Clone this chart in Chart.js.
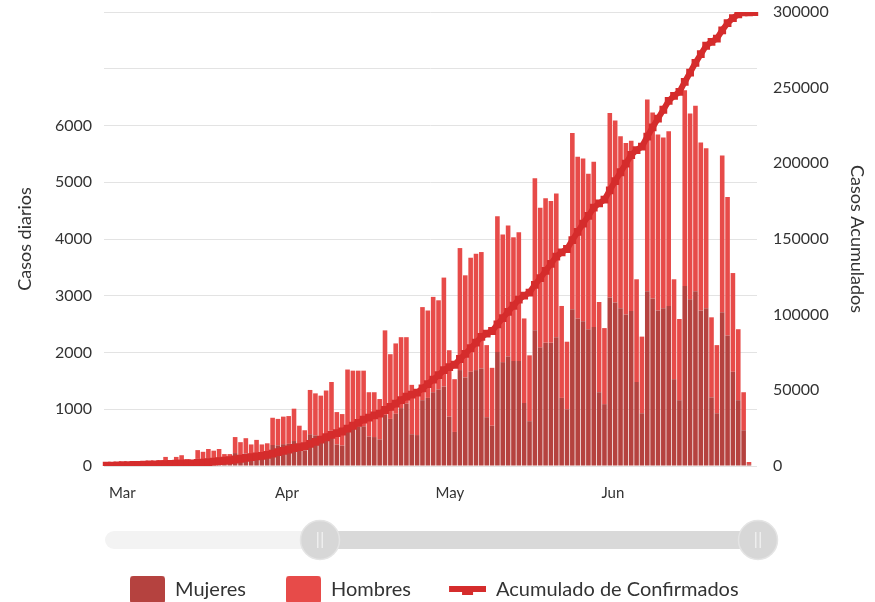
<!DOCTYPE html>
<html><head><meta charset="utf-8">
<script src="https://cdn.jsdelivr.net/npm/chart.js@4.4.1/dist/chart.umd.min.js"></script>
<style>html,body{margin:0;padding:0;background:#fff}#wrap{width:875px;height:602px;position:relative}</style>
</head><body><div id="wrap"><canvas id="c" width="875" height="602"></canvas></div>
<script>
// ---- categories ----
const START_DATE = '2020-02-29';
const DAY_COUNT = 122;
const MONTH_STARTS = ['2020-03-01','2020-04-01','2020-05-01','2020-06-01'];
const MONTH_LABELS = ['Mar','Apr','May','Jun'];

// ---- series ----
const mujeres = [0,1,1,2,4,5,7,10,16,23,
45,72,46,73,86,55,46,125,112,134,
122,135,95,96,228,190,220,170,205,172,
180,370,365,385,390,440,310,275,560,540,
525,560,620,380,360,700,690,690,700,520,
510,470,900,830,920,1020,1100,560,545,1160,
1200,1300,1350,1400,870,600,1690,1560,1660,1690,
1720,860,710,2010,1830,1930,1850,1850,1110,790,
2390,2090,2170,2170,2270,1200,1000,2760,2600,2550,
2410,2450,1300,1090,2970,2880,2780,2670,2730,1480,
930,3080,2950,2740,2780,2820,1530,1160,3170,2940,
3080,2740,2780,1210,930,2710,2300,1660,1160,630,
30,null];

const hombres = [0,1,2,3,4,5,8,12,19,27,
55,88,54,87,104,65,54,155,138,166,
148,165,115,114,282,230,270,210,255,208,
220,480,465,485,490,570,400,355,780,740,
715,770,860,570,555,1000,990,990,980,780,
790,710,1490,1140,1240,1250,1170,870,795,1640,
1540,1680,1570,1920,1170,930,2150,1800,2010,2050,
2050,1270,1020,2390,2250,2310,2180,2270,1490,1160,
2680,2460,2550,2500,2530,1620,1190,3110,2850,2870,
2740,2910,1590,1340,3250,3210,3030,3020,3000,1810,
1350,3380,3280,3100,3010,3080,1760,1430,3450,3270,
3270,2960,2820,1410,1200,2760,2440,1740,1250,670,
40,null];

const acumulado = [200,300,400,500,600,700,800,900,1000,1100,
1200,1300,1400,1500,1600,1700,1800,2000,2300,2600,
2900,3200,3500,3800,4300,4800,5300,5800,6300,6700,
7300,8200,9100,10000,10900,11900,12500,13200,14600,16000,
17500,19000,20600,21700,22800,24700,26600,28500,30600,32000,
33400,34600,37000,39000,41200,43500,45800,47200,48500,51300,
54100,57100,60000,63300,65300,66900,70700,74100,77800,81500,
85300,87400,89200,93600,97700,101900,105900,110000,112600,114600,
119700,124200,128900,133600,138400,141200,143400,149300,154700,160100,
165300,170700,173600,176000,182200,188300,194100,199800,205500,208800,
211100,217600,223800,229600,235400,241300,244600,247200,253800,260000,
266400,272100,277700,280300,282400,287900,292600,296000,298400,299700,
299800,299900];

const LEFT_TICK_MAX_LABEL = 6000;

function buildDates(start, n){
  const out = []; const d = new Date(start + 'T00:00:00Z');
  for (let i = 0; i < n; i++){ out.push(d.toISOString().slice(0,10)); d.setUTCDate(d.getUTCDate() + 1); }
  return out;
}
const categories = buildDates(START_DATE, DAY_COUNT);

const COL_MUJ = '#b5423f';
const COL_HOM = '#e74b49';
const COL_LINE = '#d52c2c';
const TEXT = '#333333';

function swatch(color){
  const c = document.createElement('canvas'); c.width = 71; c.height = 29;
  const g = c.getContext('2d'); g.fillStyle = color;
  g.beginPath(); g.roundRect(36, 0, 35, 29, 4); g.fill();
  return c;
}
function lineSymbol(color){
  const c = document.createElement('canvas'); c.width = 71; c.height = 14;
  const g = c.getContext('2d'); g.fillStyle = color;
  g.fillRect(34, 3, 37, 6); g.fillRect(47, 3, 11, 9);
  return c;
}

const scrollbarPlugin = {
  id: 'scrollbarDeco',
  afterDraw(chart){
    const g = chart.ctx; g.save();
    g.fillStyle = '#f3f3f3';
    g.beginPath(); g.roundRect(105, 531, 672, 18, 9); g.fill();
    g.fillStyle = '#d9d9d9';
    g.fillRect(320, 531, 438, 18);
    [320, 758].forEach(cx => {
      g.beginPath(); g.arc(cx, 540, 19.5, 0, Math.PI*2);
      g.fillStyle = '#d7d7d7'; g.fill();
      g.lineWidth = 1.5; g.strokeStyle = '#e4e4e4'; g.stroke();
      g.fillStyle = '#eeeeee';
      g.fillRect(cx - 3, 532, 1.5, 16); g.fillRect(cx + 1.5, 532, 1.5, 16);
    });
    g.restore();
  }
};

const legendPlacer = {
  id: 'legendPlacer',
  afterLayout(chart){
    const lg = chart.legend;
    if (lg){ lg.left = 90; lg.top = 576; }
  }
};

Chart.defaults.font.family = "Lato, 'Open Sans', sans-serif";
Chart.defaults.color = TEXT;

new Chart(document.getElementById('c'), {
  data: {
    labels: categories,
    datasets: [
      { type: 'line', label: 'Acumulado de Confirmados', data: acumulado, yAxisID: 'y2',
        borderColor: COL_LINE, backgroundColor: COL_LINE, borderWidth: 6,
        pointStyle: 'rect', pointRadius: 5.5, pointBackgroundColor: COL_LINE, pointBorderWidth: 0,
        tension: 0, order: 0 },
      { type: 'bar', label: 'Mujeres', data: mujeres, yAxisID: 'y', backgroundColor: COL_MUJ,
        stack: 's', order: 1, categoryPercentage: 1, barPercentage: 0.86 },
      { type: 'bar', label: 'Hombres', data: hombres, yAxisID: 'y', backgroundColor: COL_HOM,
        stack: 's', order: 1, categoryPercentage: 1, barPercentage: 0.86 }
    ]
  },
  options: {
    responsive: false,
    animation: false,
    layout: { autoPadding: false, padding: { top: 12, left: 0, right: 0, bottom: 0 } },
    plugins: {
      tooltip: { enabled: false },
      legend: {
        position: 'bottom', align: 'start', maxHeight: 26,
        labels: {
          usePointStyle: true, pointStyleWidth: 71, padding: 4,
          font: { size: 20 }, color: TEXT,
          generateLabels(){
            return [
              { text: 'Mujeres', pointStyle: swatch(COL_MUJ), fillStyle: COL_MUJ, strokeStyle: COL_MUJ, lineWidth: 0, fontColor: TEXT, datasetIndex: 1, hidden: false },
              { text: 'Hombres', pointStyle: swatch(COL_HOM), fillStyle: COL_HOM, strokeStyle: COL_HOM, lineWidth: 0, fontColor: TEXT, datasetIndex: 2, hidden: false },
              { text: 'Acumulado de Confirmados', pointStyle: lineSymbol(COL_LINE), fillStyle: COL_LINE, strokeStyle: COL_LINE, lineWidth: 0, fontColor: TEXT, datasetIndex: 0, hidden: false }
            ];
          }
        }
      }
    },
    scales: {
      x: {
        stacked: true, offset: true,
        grid: { display: false, drawTicks: false }, border: { display: false },
        afterFit(s){ s.height = 110; },
        ticks: {
          autoSkip: false, maxRotation: 0, minRotation: 0, align: 'start', labelOffset: -3, padding: 18,
          font: { size: 15 }, color: TEXT,
          callback(v, i){ const k = MONTH_STARTS.indexOf(categories[i]); return k >= 0 ? MONTH_LABELS[k] : ''; }
        }
      },
      y: {
        position: 'left', stacked: true, min: 0, max: 8000,
        afterFit(s){ s.width = 104; s.paddingTop = 0; s.paddingBottom = 0; },
        grid: { color: '#e3e3e3', lineWidth: 1, drawTicks: false }, border: { display: false },
        ticks: { stepSize: 1000, padding: 12, font: { size: 16 }, color: TEXT,
          callback(v){ return v <= LEFT_TICK_MAX_LABEL ? String(v) : ''; } },
        title: { display: true, text: 'Casos diarios', font: { size: 18 }, color: TEXT, padding: { top: 14, bottom: 0 } }
      },
      y2: {
        position: 'right', min: 0, max: 300000,
        afterFit(s){ s.width = 118; s.paddingTop = 0; s.paddingBottom = 0; },
        grid: { display: false, drawTicks: false }, border: { display: false },
        ticks: { stepSize: 50000, padding: 16, font: { size: 16 }, color: TEXT,
          callback(v){ return String(v); } },
        title: { display: true, text: 'Casos Acumulados', font: { size: 18 }, color: TEXT, padding: { top: 7, bottom: 0 } }
      }
    }
  },
  plugins: [scrollbarPlugin, legendPlacer]
});
</script>
</body></html>
